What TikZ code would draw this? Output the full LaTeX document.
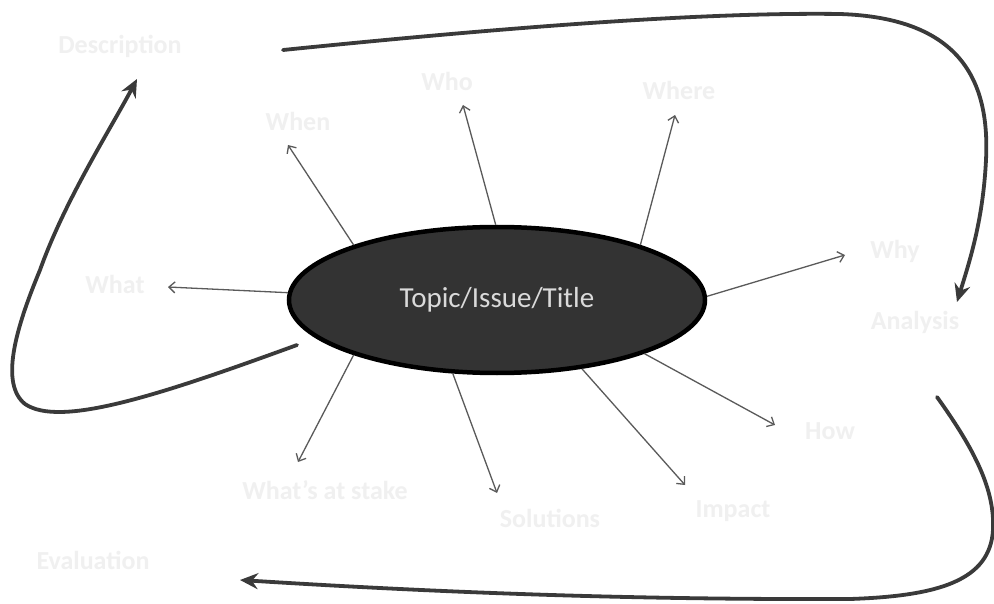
\documentclass[tikz,border=0pt]{standalone}
\usepackage{fontspec}
\setmainfont{Carlito}
\usetikzlibrary{arrows.meta,shapes.geometric}
\definecolor{ovalfill}{HTML}{333333}
\definecolor{spokegray}{HTML}{5A5A5A}
\definecolor{loopgray}{HTML}{3A3A3A}
\definecolor{faint}{HTML}{F0F0F0}
\definecolor{titletext}{HTML}{DADADA}
\tikzset{
  topicoval/.style={ellipse, draw=black, line width=4.5pt, fill=ovalfill, minimum width=416pt, minimum height=146pt, inner sep=0pt, text=titletext, font=\fontsize{29}{32}\selectfont},
  faintlabel/.style={text=faint, font=\bfseries\fontsize{26}{28}\selectfont, inner sep=0pt},
  spoke/.style={draw=spokegray, line width=1.3pt, -{Straight Barb[length=6pt,width=11pt,line width=1.3pt]}},
  loop/.style={draw=loopgray, line width=3.8pt, line cap=round, -{Stealth[length=18pt,width=16pt,inset=6pt]}}
}
\begin{document}
\begin{tikzpicture}[x=1pt,y=-1pt]
\useasboundingbox (0,0) rectangle (994,604);
\fill[white] (0,0) rectangle (994,604);

% central oval
\node[topicoval] (topic) at (497,300) {Topic/Issue/Title};

% faint labels
\node[faintlabel] (desc) at (120,46) {Description};
\node[faintlabel] (when) at (298,121) {When};
\node[faintlabel] (who) at (447,81) {Who};
\node[faintlabel] (where) at (679,90) {Where};
\node[faintlabel] (what) at (115,284) {What};
\node[faintlabel] (why) at (895,251) {Why};
\node[faintlabel] (analysis) at (915,322) {Analysis};
\node[faintlabel] (how) at (830,431) {How};
\node[faintlabel] (stake) at (325,490) {What's at stake};
\node[faintlabel] (solutions) at (550,518) {Solutions};
\node[faintlabel] (impact) at (733,511) {Impact};
\node[faintlabel] (evaluation) at (93,560) {Evaluation};

% spoke ends
\coordinate (e1) at (168,287);
\coordinate (e2) at (288,145);
\coordinate (e3) at (463,105);
\coordinate (e4) at (675,115);
\coordinate (e5) at (845,255);
\coordinate (e6) at (775,425);
\coordinate (e7) at (685,485);
\coordinate (e8) at (497,493);
\coordinate (e9) at (298,462);

\draw[spoke] (topic.178) -- (e1);
\draw[spoke] (topic.159) -- (e2);
\draw[spoke] (topic.91.5) -- (e3);
\draw[spoke] (topic.21) -- (e4);
\draw[spoke] (topic.1) -- (e5);
\draw[spoke] (topic.-20) -- (e6);
\draw[spoke] (topic.-39) -- (e7);
\draw[spoke] (topic.239) -- (e8);
\draw[spoke] (topic.201) -- (e9);

% big loop arrows
\coordinate (a0) at (297,345);
\coordinate (a1) at (137,79);
\coordinate (b0) at (283,50);
\coordinate (b1) at (957,302);
\coordinate (c0) at (937,397);
\coordinate (c1) at (240,580);

\draw[loop] (a0) .. controls (160,395) and (60,428) .. (25,404)
  .. controls (0,384) and (15,330) .. (40,270)
  .. controls (65,200) and (110,130) .. (a1);
\draw[loop] (b0) .. controls (500,28) and (700,12) .. (840,14)
  .. controls (960,18) and (990,80) .. (986,160)
  .. controls (983,220) and (970,260) .. (b1);
\draw[loop] (c0) .. controls (975,450) and (995,490) .. (993,530)
  .. controls (990,580) and (940,596) .. (850,599)
  .. controls (600,600) and (400,590) .. (c1);
\end{tikzpicture}
\end{document}
